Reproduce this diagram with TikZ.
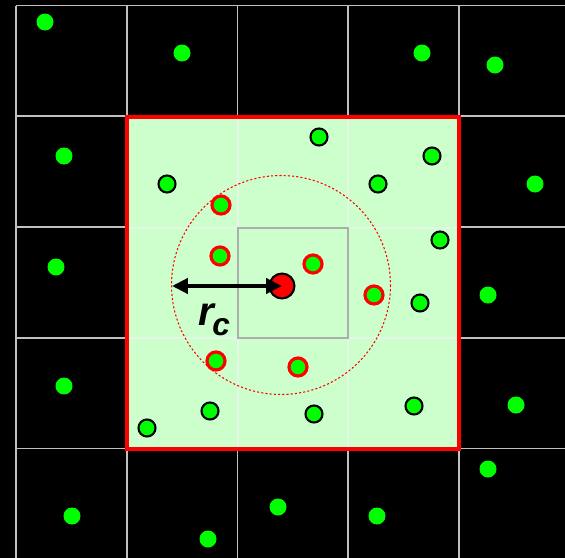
\documentclass[tikz,border=0pt]{standalone}
\usepackage{fontspec}
\setmainfont{Liberation Sans}
\usetikzlibrary{arrows.meta}
\definecolor{cellgreen}{HTML}{CCFFCC}
\definecolor{dotgreen}{HTML}{00FF00}
\definecolor{gridgray}{HTML}{C0C0C0}
\definecolor{innerline}{HTML}{E6F6E6}

\begin{document}
\begin{tikzpicture}[x=0.02cm, y=-0.02cm,
	gridline/.style={gridgray, line width=1.1pt},
	freedot/.style={fill=dotgreen},
	celldot/.style={fill=dotgreen, draw=black, line width=1.2pt},
	nbdot/.style={fill=dotgreen, draw=red, line width=1.8pt},
	particle/.style={circle, fill=red, draw=black, line width=1.2pt, minimum size=27*0.02cm-1.2pt, inner sep=0pt}]
					\fill[black] (0,0) rectangle (565,558);
					\useasboundingbox (0,0) rectangle (565,558);
					\clip (0,0) rectangle (565,558);
					\foreach \i in {0,...,4} {
						\draw[gridline] ({16+110.75*\i},5.5) -- ({16+110.75*\i},560);
						\draw[gridline] (16,{5.5+110.75*\i}) -- (567,{5.5+110.75*\i});
					}
					\fill[cellgreen] (127,117) rectangle (459,449);
					\draw[innerline, line width=0.7pt] (238,117) -- (238,449) (348,117) -- (348,449);
					\draw[innerline, line width=0.7pt] (127,228) -- (459,228) (127,338) -- (459,338);
					\draw[gridgray!90!black, line width=1.2pt] (238,228) rectangle (348,338);
					\draw[red, line width=2.4pt] (127,117) rectangle (459,449);
					\draw[red, line width=0.6pt, dash pattern=on 1.2pt off 1.2pt] (281,285) circle (109.5);
					\foreach \p in {(45,22),(182,53),(422,53),(495,65),(64,156),(535,184),(56,267),(488,295),(64,386),(516,405),(488,469),(72,516),(208,539),(278,507),(377,516)}
						\fill[freedot] \p circle (8.5);
					\foreach \p in {(319,137),(432,156),(167,184),(378,184),(440,240),(420,303),(147,428),(210,411),(314,414),(414,406)}
						\draw[celldot] \p circle (8.5);
					\foreach \p in {(221,205),(220,256),(313,264),(374,295),(216,361),(298,367)}
						\draw[nbdot] \p circle (9);
					\node[particle] (centre) at (282,286) {};
					\coordinate (rcend) at (172,286);
					\draw[line width=2.2pt, {Triangle[length=9pt,width=8.5pt]}-{Triangle[length=9pt,width=8.5pt]}] (rcend) -- (centre.center);
					\node[anchor=base west, inner sep=0pt] (rclabel) at (198,325) {\fontsize{23}{23}\selectfont\bfseries\itshape r\kern-1pt\raisebox{-6pt}{\fontsize{18}{18}\selectfont c}};
				\end{tikzpicture}
\end{document}
